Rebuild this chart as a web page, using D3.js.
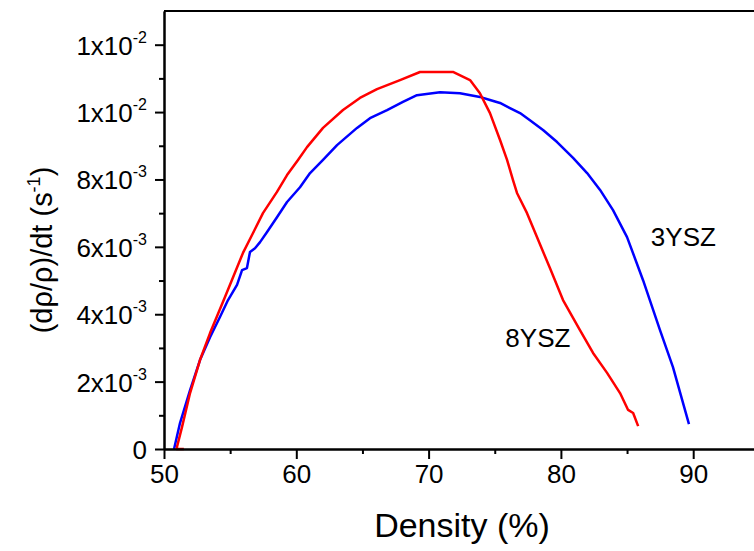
<!DOCTYPE html>
<html>
<head>
<meta charset="utf-8">
<script src="https://cdnjs.cloudflare.com/ajax/libs/d3/7.8.5/d3.min.js"></script>
<style>
body { margin: 0; background: #fff; }
text { font-family: "Liberation Sans", Arial, sans-serif; fill: #000; }
</style>
</head>
<body>
<div id="chart"></div>
<script>
// densities in %, rates in units of 1e-3 s^-1
var density3YSZ = [50.76, 51.21, 51.97, 52.72, 53.48, 54.23, 54.84, 55.52, 55.90, 56.27, 56.50, 56.88, 57.26, 57.79, 58.54, 59.30, 60.28, 61.04, 62.02, 63.08, 64.59, 65.57, 66.86, 68.06, 69.12, 70.86, 72.37, 73.88, 74.64, 75.40, 76.15, 76.91, 77.66, 78.65, 79.71, 80.92, 81.98, 82.96, 83.94, 85.00, 86.21, 87.49, 88.47, 89.68];
var rate3YSZ    = [0.00, 0.77, 1.75, 2.64, 3.32, 3.92, 4.42, 4.87, 5.31, 5.37, 5.85, 5.96, 6.14, 6.44, 6.88, 7.33, 7.77, 8.19, 8.58, 9.02, 9.53, 9.82, 10.06, 10.30, 10.50, 10.59, 10.56, 10.45, 10.36, 10.27, 10.12, 9.97, 9.76, 9.47, 9.11, 8.64, 8.19, 7.69, 7.09, 6.29, 5.01, 3.53, 2.43, 0.74];

var density8YSZ = [51.50, 50.95, 50.98, 51.36, 51.97, 52.72, 53.48, 54.61, 55.22, 55.97, 56.73, 57.48, 58.54, 59.30, 60.13, 60.81, 62.02, 63.53, 64.81, 66.10, 67.84, 69.35, 71.84, 73.13, 73.88, 74.64, 75.40, 75.93, 76.38, 76.68, 77.44, 78.19, 79.17, 80.16, 81.44, 82.43, 83.49, 84.47, 85.08, 85.46, 85.84];
var rate8YSZ    = [0.00, 0.00, 0.06, 0.65, 1.66, 2.64, 3.44, 4.51, 5.10, 5.82, 6.41, 7.00, 7.63, 8.13, 8.58, 8.96, 9.53, 10.06, 10.42, 10.68, 10.95, 11.19, 11.19, 10.95, 10.56, 9.97, 9.17, 8.58, 7.98, 7.60, 7.00, 6.29, 5.37, 4.42, 3.53, 2.85, 2.26, 1.66, 1.16, 1.07, 0.68];

var xTicks = [50, 60, 70, 80, 90];
var xMinorTicks = [55, 65, 75, 85];
var yTicks = [0, 2, 4, 6, 8, 10, 12];
var yMinorTicks = [1, 3, 5, 7, 9, 11];
var yTickMant = ["0", "2x10", "4x10", "6x10", "8x10", "1x10", "1x10"];
var yTickExp = ["", "-3", "-3", "-3", "-3", "-2", "-2"];

var seriesNames = ["3YSZ", "8YSZ"];
var labelX = [86.8, 75.8];
var labelY = [6.02, 3.03];

var width = 754;
var height = 551;
var margin = {left: 164, top: 11, right: 0, bottom: 102};

var svg = d3.select("#chart")
            .append("svg")
            .attr("width", width)
            .attr("height", height);

var x = d3.scaleLinear()
          .domain([50, 95])
          .range([margin.left, margin.left + 45 * 13.23]);

var y = d3.scaleLinear()
          .domain([0, 13])
          .range([height - margin.bottom, margin.top]);

// curves
var line = d3.line()
             .x(function(d){ return x(d[0]); })
             .y(function(d){ return y(d[1]); });

var series = [
  {name: "3YSZ", color: "#0000ff", data: d3.zip(density3YSZ, rate3YSZ)},
  {name: "8YSZ", color: "#ff0000", data: d3.zip(density8YSZ, rate8YSZ)}
];

svg.selectAll("path.curve")
   .data(series)
   .enter()
   .append("path")
   .attr("class", "curve")
   .attr("d", function(d){ return line(d.data); })
   .attr("fill", "none")
   .attr("stroke", function(d){ return d.color; })
   .attr("stroke-width", 2.5)
   .attr("stroke-linejoin", "round");

// top frame line
svg.append("line")
   .attr("x1", x(50)).attr("x2", width)
   .attr("y1", y(13)).attr("y2", y(13))
   .attr("stroke", "#000").attr("stroke-width", 2);

// x axis
var gx = svg.append("g")
   .attr("transform", "translate(0," + y(0) + ")")
   .call(d3.axisBottom(x).tickValues(xTicks).tickSize(10).tickSizeOuter(0));
svg.append("g")
   .attr("transform", "translate(0," + y(0) + ")")
   .call(d3.axisBottom(x).tickValues(xMinorTicks).tickSize(5).tickFormat("").tickSizeOuter(0));
gx.selectAll("text")
  .attr("y", 16)
  .style("font-size", "26px");

// y axis
svg.append("g")
   .attr("transform", "translate(" + x(50) + ",0)")
   .call(d3.axisLeft(y).tickValues(yTicks).tickSize(9).tickSizeOuter(0).tickFormat(""));
svg.append("g")
   .attr("transform", "translate(" + x(50) + ",0)")
   .call(d3.axisLeft(y).tickValues(yMinorTicks).tickSize(5).tickFormat("").tickSizeOuter(0));

svg.selectAll(".domain, .tick line")
   .attr("stroke", "#000")
   .attr("stroke-width", 2);

var yLab = svg.append("g").selectAll("text")
   .data(yTicks)
   .enter()
   .append("text")
   .attr("x", x(50) - 17)
   .attr("y", function(d){ return y(d) + 10; })
   .attr("text-anchor", "end")
   .style("font-size", "26px");
yLab.append("tspan")
    .text(function(d, i){ return yTickMant[i]; });
yLab.append("tspan")
    .attr("dy", -12)
    .style("font-size", "16px")
    .text(function(d, i){ return yTickExp[i]; });

// axis titles
svg.append("text")
   .attr("x", 462)
   .attr("y", 537)
   .attr("text-anchor", "middle")
   .style("font-size", "34px")
   .text("Density (%)");

var yTitle = svg.append("text")
   .attr("transform", "translate(52,250) rotate(-90)")
   .attr("text-anchor", "middle")
   .style("font-size", "29px");
yTitle.append("tspan").text("(d\u03C1/\u03C1)/dt  (s");
yTitle.append("tspan").attr("dy", -12).style("font-size", "18px").text("-1");
yTitle.append("tspan").attr("dy", 12).text(")");

// series labels
svg.selectAll("text.lbl")
   .data(seriesNames)
   .enter()
   .append("text")
   .attr("class", "lbl")
   .attr("x", function(d, i){ return x(labelX[i]); })
   .attr("y", function(d, i){ return y(labelY[i]); })
   .style("font-size", "26px")
   .text(function(d){ return d; });
</script>
</body>
</html>
